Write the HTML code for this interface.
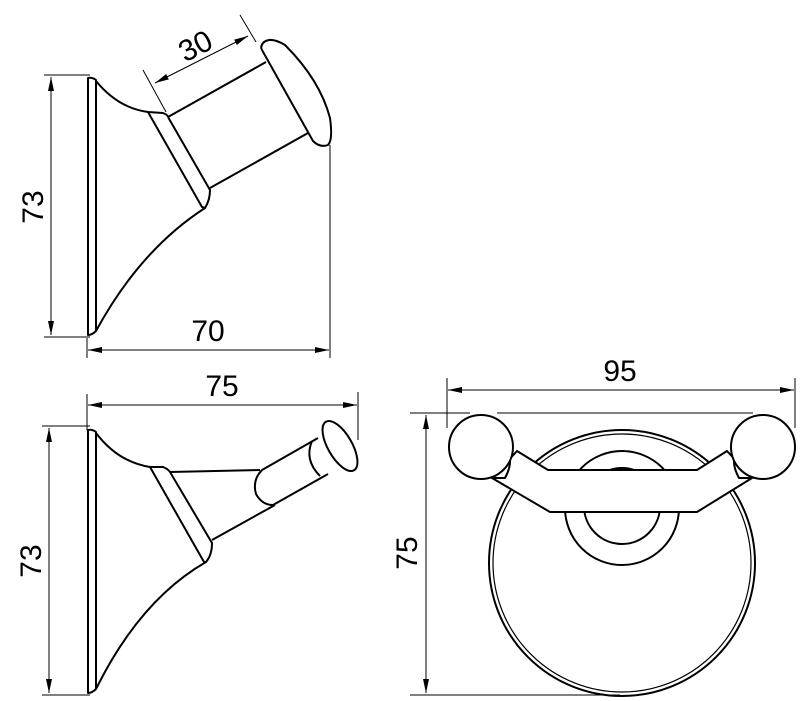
<!DOCTYPE html>
<html><head><style>html,body{margin:0;padding:0;background:#fff}svg{display:block}</style></head>
<body>
<svg width="800" height="701" viewBox="0 0 800 701" xmlns="http://www.w3.org/2000/svg">
<defs>
<marker id="a" viewBox="0 0 14 6" refX="14" refY="3" markerWidth="14" markerHeight="6" markerUnits="userSpaceOnUse" orient="auto-start-reverse"><path d="M0,0 L14,3 L0,6 Z" fill="#000"/></marker>
</defs>
<g fill="none" stroke="#000" stroke-width="1">
<line x1="44" y1="75" x2="90" y2="75"/><line x1="44" y1="337" x2="90" y2="337"/>
<line x1="51" y1="77" x2="51" y2="335" marker-start="url(#a)" marker-end="url(#a)"/>
<line x1="87" y1="338" x2="87" y2="358"/><line x1="330" y1="145" x2="330" y2="358"/>
<line x1="88" y1="350" x2="329" y2="350" marker-start="url(#a)" marker-end="url(#a)"/>
<line x1="143" y1="70" x2="166" y2="112"/><line x1="240" y1="15" x2="256" y2="42"/>
<line x1="155" y1="83" x2="248" y2="36" marker-start="url(#a)" marker-end="url(#a)"/>
<line x1="87" y1="394" x2="87" y2="430"/><line x1="358" y1="392" x2="358" y2="440"/>
<line x1="88" y1="405" x2="357" y2="405" marker-start="url(#a)" marker-end="url(#a)"/>
<line x1="42" y1="426" x2="90" y2="426"/><line x1="42" y1="695" x2="90" y2="695"/>
<line x1="49" y1="428" x2="49" y2="693" marker-start="url(#a)" marker-end="url(#a)"/>
<line x1="447" y1="378" x2="447" y2="428"/><line x1="795" y1="378" x2="795" y2="428"/>
<line x1="448" y1="390" x2="794" y2="390" marker-start="url(#a)" marker-end="url(#a)"/>
<line x1="410" y1="413" x2="470" y2="413"/><line x1="497" y1="413" x2="753" y2="413"/>
<line x1="410" y1="695" x2="620" y2="695"/>
<line x1="426" y1="415" x2="426" y2="693" marker-start="url(#a)" marker-end="url(#a)"/>
</g>
<g font-family="Liberation Sans, sans-serif" font-size="30" fill="#000" text-anchor="middle">
<text x="208" y="341">70</text>
<text transform="translate(43,207) rotate(-90)">73</text>
<text transform="translate(200,55) rotate(-27)">30</text>
<text x="222" y="396">75</text>
<text transform="translate(41,561) rotate(-90)">73</text>
<text x="620" y="381">95</text>
<text transform="translate(417,553) rotate(-90)">75</text>
</g>
<g fill="none" stroke="#000" stroke-width="2" stroke-linejoin="round">
<path d="M88,78 L88,335 Q92,335 96,331 L96,80 Q92,77 88,78 Z"/>
<path d="M96,81 Q118,108 148,112 L163,113 Q168,115 168,117"/>
<path d="M148,112 L202,207 L205,208 Q210,200 210,190 L168,117"/>
<path d="M205,208 Q140,250 96,331"/>
<line x1="168" y1="117" x2="266" y2="62"/>
<line x1="210" y1="188" x2="308" y2="133"/>
<path d="M262,50 L313,141 Q320,148 328,145 Q333,140 330,118 Q320,80 285,45 Q270,36 263,43 Q260,47 262,50 Z"/>
<path d="M88,430 L88,693 Q92,693 96,689 L96,432 Q92,429 88,430 Z"/>
<path d="M96,433 Q118,462 150,467 L163,467 Q168,469 170,472"/>
<path d="M150,467 L204,562 L206,562 Q212,555 212,543 L170,472"/>
<path d="M206,562 Q140,600 96,689"/>
<line x1="170" y1="472" x2="260" y2="470"/>
<line x1="212" y1="540" x2="275" y2="505"/>
<path d="M262,470 L318,438 M273,505 L328,474"/>
<path d="M262,470 Q252,480 256,494 Q262,505 273,505"/>
<path d="M312,441 Q304,460 320,476"/>
<ellipse cx="340" cy="446" rx="12" ry="28" transform="rotate(-30 340 446)"/>
<circle cx="622" cy="563" r="133"/>
<circle cx="622" cy="563" r="129" stroke-width="1.2"/>
<circle cx="622" cy="508" r="57" fill="#fff"/>
<circle cx="622" cy="506" r="38" fill="#fff"/>
<path d="M548,470 L697,470 L727,451 L752,478 L697,512 L550,512 L492,478 L517,451 Z" fill="#fff"/>
<path d="M505,448 Q515,460 505,478 L492,478" fill="#fff"/>
<path d="M739,448 Q729,460 739,478 L752,478" fill="#fff"/>
<circle cx="481" cy="447" r="32" fill="#fff"/>
<circle cx="763" cy="447" r="32" fill="#fff"/>
</g>
</svg>
</body></html>
